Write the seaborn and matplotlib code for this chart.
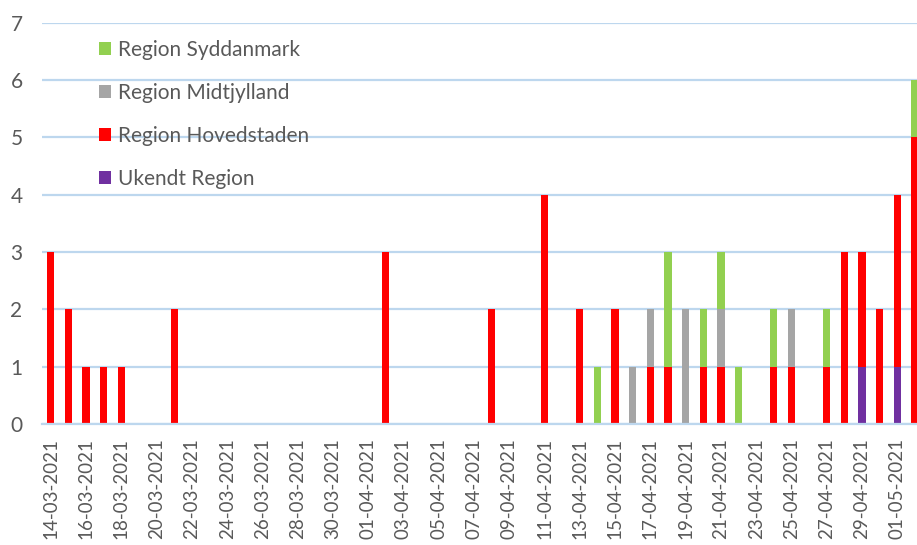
import matplotlib.pyplot as plt
import numpy as np
import pandas as pd
import seaborn as sns

# one category per day, 14-03-2021 .. 02-05-2021
days = pd.date_range("2021-03-14", "2021-05-02", freq="D")

syddanmark = [0, 0, 0, 0, 0, 0, 0, 0, 0, 0,
              0, 0, 0, 0, 0, 0, 0, 0, 0, 0,
              0, 0, 0, 0, 0, 0, 0, 0, 0, 0,
              0, 1, 0, 0, 0, 2, 0, 1, 1, 1,
              0, 1, 0, 0, 1, 0, 0, 0, 0, 1]
midtjylland = [0, 0, 0, 0, 0, 0, 0, 0, 0, 0,
               0, 0, 0, 0, 0, 0, 0, 0, 0, 0,
               0, 0, 0, 0, 0, 0, 0, 0, 0, 0,
               0, 0, 0, 1, 1, 0, 2, 0, 1, 0,
               0, 0, 1, 0, 0, 0, 0, 0, 0, 0]
hovedstaden = [3, 2, 1, 1, 1, 0, 0, 2, 0, 0,
               0, 0, 0, 0, 0, 0, 0, 0, 0, 3,
               0, 0, 0, 0, 0, 2, 0, 0, 4, 0,
               2, 0, 2, 0, 1, 1, 0, 1, 1, 0,
               0, 1, 1, 0, 1, 3, 2, 2, 3, 5]
ukendt = [0, 0, 0, 0, 0, 0, 0, 0, 0, 0,
          0, 0, 0, 0, 0, 0, 0, 0, 0, 0,
          0, 0, 0, 0, 0, 0, 0, 0, 0, 0,
          0, 0, 0, 0, 0, 0, 0, 0, 0, 0,
          0, 0, 0, 0, 0, 0, 1, 0, 1, 0]

regions = ["Region Syddanmark", "Region Midtjylland",
           "Region Hovedstaden", "Ukendt Region"]
colors = ["#92D050", "#A5A5A5", "#FF0000", "#7030A0"]

rows = []
for name, counts in zip(regions, [syddanmark, midtjylland, hovedstaden, ukendt]):
    for i, n in enumerate(counts):
        rows.append({"dag": i, "region": name, "antal": n})
df = pd.DataFrame(rows)

sns.set_theme(style="white")
plt.rcParams["font.family"] = ["Lato", "DejaVu Sans"]
text_color = "#595959"
line_color = "#BDD7EE"

fig = plt.figure(figsize=(9.17, 5.45), dpi=100)
ax = fig.add_axes([42 / 917, 1 - 424 / 545, (923.7 - 42) / 917, (424 - 22.7) / 545])

sns.histplot(data=df, x="dag", weights="antal", hue="region",
             hue_order=regions, palette=colors, multiple="stack",
             discrete=True, shrink=0.41, linewidth=0, alpha=1,
             binrange=(0, 49), ax=ax)

ax.set_xlim(-0.5, 49.5)
ax.set_ylim(0, 7)
ax.set_xlabel("")
ax.set_ylabel("")

# y axis
ax.set_yticks(range(8))
ax.yaxis.grid(True, color=line_color, linewidth=1.6)
ax.set_axisbelow(True)
ax.tick_params(axis="y", length=0, pad=14, labelsize=15, labelcolor=text_color)

# x axis: tick marks between every second day, labels on the days
ax.set_xticks(np.arange(-0.5, 50, 2))
ax.set_xticklabels([])
ax.set_xticks(range(0, 50, 2), minor=True)
ax.set_xticklabels([d.strftime("%d-%m-%Y") for d in days[::2]], minor=True)
ax.tick_params(axis="x", which="major", length=7, width=1.6, color=line_color)
ax.tick_params(axis="x", which="minor", length=0, pad=10, labelsize=13.5,
               labelcolor=text_color, labelrotation=90)

for side in ["left", "right", "top"]:
    ax.spines[side].set_visible(False)
ax.spines["bottom"].set_color(line_color)
ax.spines["bottom"].set_linewidth(1.6)

sns.move_legend(ax, "upper left", bbox_to_anchor=(99 / 917, 1 - 40 / 545),
                bbox_transform=fig.transFigure, frameon=False, title=None,
                fontsize=15, labelcolor=text_color, labelspacing=1.1,
                handlelength=0.57, handleheight=0.57, handletextpad=0.35,
                borderaxespad=0, borderpad=0)

fig.savefig("out.png", dpi=100)
